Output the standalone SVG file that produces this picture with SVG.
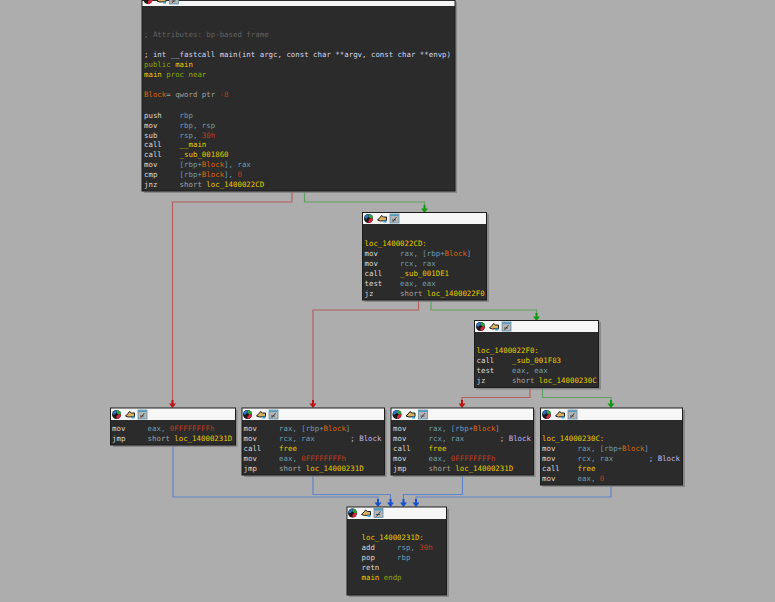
<svg xmlns="http://www.w3.org/2000/svg" width="775" height="602" viewBox="0 0 775 602">
<style>
text{font-family:"DejaVu Sans Mono","Liberation Mono",monospace;font-size:7.4px;white-space:pre;fill:#d8d8d8}
.box{fill:#2b2b2b;stroke:#1c1c1c;stroke-width:1}
.shadow{fill:#7c7c7c;opacity:.75}
.title{fill:#f6f6f6}
.r{fill:#6b9dab}.y{fill:#e6c800}.o{fill:#dc6410}.n{fill:#bc3c22}.b{fill:#6a99ba}.g{fill:#a0a0a0}.c{fill:#626262}
.l{fill:#d4d4ee}.p{fill:#86a800}.k{fill:#c0b6ea}
.edge{fill:none;stroke-width:1.2}
.red{stroke:#b85f5f}.green{stroke:#60a060}.blue{stroke:#6284cc}
</style>
<defs>
<g id="icons">
<circle cx="6" cy="6.500" r="4.500" fill="#1b1b1b"/>
<path d="M6 2A4.500 4.500 0 0 1 10.500 6.500H6Z" fill="#2f9e3f"/>
<path d="M10.500 6.500A4.500 4.500 0 0 1 6 11V6.500Z" fill="#d6243c"/>
<path d="M2 6.500A4.500 4.500 0 0 1 6 2V6.500Z" fill="#2a6fc0"/>
<circle cx="6" cy="6.500" r="1.300" fill="#111"/>
<path d="M15 8l3-3 1-1.500 2 1.500 3 0 0 3.500-6 0.500Z" fill="#d9b260" stroke="#1e1e1e" stroke-width="1"/>
<rect x="21" y="8.500" width="3" height="2" fill="#3aa0d8"/>
<rect x="27.500" y="2" width="9" height="9" fill="#b5b5b5" stroke="#5a8fa8" stroke-width=".8"/>
<rect x="28" y="2.500" width="8" height="1.500" fill="#4f9cc4"/>
<path d="M30 10l4-5M29.500 8h4" stroke="#333" stroke-width=".8" fill="none"/>
</g>
<marker id="ar" markerWidth="8" markerHeight="8" refX="3.500" refY="7" markerUnits="userSpaceOnUse" viewBox="0 0 7 8"><path d="M0 3.500H7L3.500 8Z M2.500 0H4.500V4H2.500Z" fill="#b81414"/></marker>
<marker id="ag" markerWidth="8" markerHeight="8" refX="3.500" refY="7" markerUnits="userSpaceOnUse" viewBox="0 0 7 8"><path d="M0 3.500H7L3.500 8Z M2.500 0H4.500V4H2.500Z" fill="#109a10"/></marker>
<marker id="ab" markerWidth="8" markerHeight="8" refX="3.500" refY="7" markerUnits="userSpaceOnUse" viewBox="0 0 7 8"><path d="M0 3.500H7L3.500 8Z M2.500 0H4.500V4H2.500Z" fill="#1450d2"/></marker>
</defs>
<rect width="775" height="602" fill="#adadad"/>
<g id="connectors">
<path class="edge red" marker-end="url(#ar)" d="M292 191V202H172.500V407"/>
<path class="edge green" marker-end="url(#ag)" d="M304.500 191V202H424.500V212"/>
<path class="edge red" marker-end="url(#ar)" d="M418.500 300V310H313V407"/>
<path class="edge green" marker-end="url(#ag)" d="M431 300V310H536.500V320"/>
<path class="edge red" marker-end="url(#ar)" d="M530 387V397.500H462V407"/>
<path class="edge green" marker-end="url(#ag)" d="M542.500 387V397.500H611V407"/>
<path class="edge blue" marker-end="url(#ab)" d="M173 445V497H378V506"/>
<path class="edge blue" marker-end="url(#ab)" d="M313 475V494.500H390.500V506"/>
<path class="edge blue" marker-end="url(#ab)" d="M462.500 475V494.500H403.500V506"/>
<path class="edge blue" marker-end="url(#ab)" d="M611 485V497H416V506"/>
</g>
<g id="node-main">
<rect class="shadow" x="144" y="2" width="313" height="191"/>
<rect class="box" x="142" y="-8" width="313" height="199"/>
<rect class="title" x="142.500" y="1" width="312" height="5"/>
<use href="#icons" x="142" y="-7"/>
<text x="144" y="37" class="c">; Attributes: bp-based frame</text>
<text x="144" y="57" class="l">; int __fastcall main(int argc, const char **argv, const char **envp)</text>
<text x="144" y="67"><tspan class="p">public </tspan><tspan class="y">main</tspan></text>
<text x="144" y="77"><tspan class="y">main </tspan><tspan class="p">proc near</tspan></text>
<text x="144" y="97"><tspan class="o">Block</tspan><tspan class="g">= qword ptr </tspan><tspan class="n">-8</tspan></text>
<text x="144" y="118">push    <tspan class="r">rbp</tspan></text>
<text x="144" y="127.500">mov     <tspan class="r">rbp, rsp</tspan></text>
<text x="144" y="137.500">sub     <tspan class="r">rsp, </tspan><tspan class="n">30h</tspan></text>
<text x="144" y="147">call    <tspan class="y">__main</tspan></text>
<text x="144" y="157">call    <tspan class="y">_sub_001860</tspan></text>
<text x="144" y="167">mov     <tspan class="b">[rbp+</tspan><tspan class="o">Block</tspan><tspan class="b">], </tspan><tspan class="r">rax</tspan></text>
<text x="144" y="177">cmp     <tspan class="b">[rbp+</tspan><tspan class="o">Block</tspan><tspan class="b">], </tspan><tspan class="n">0</tspan></text>
<text x="144" y="187">jnz     <tspan class="g">short </tspan><tspan class="y">loc_1400022CD</tspan></text>
</g>
<g id="node-22cd">
<rect class="shadow" x="364.500" y="214" width="124.500" height="88"/>
<rect class="box" x="362.500" y="212.500" width="124" height="87.500"/>
<rect class="title" x="363" y="213" width="123" height="11"/>
<use href="#icons" x="362.500" y="212"/>
<text x="364.500" y="245.500" class="y">loc_1400022CD:</text>
<text x="364.500" y="255.500">mov     <tspan class="r">rax, </tspan><tspan class="b">[rbp+</tspan><tspan class="o">Block</tspan><tspan class="b">]</tspan></text>
<text x="364.500" y="265.500">mov     <tspan class="r">rcx, rax</tspan></text>
<text x="364.500" y="275.500">call    <tspan class="y">_sub_001DE1</tspan></text>
<text x="364.500" y="285.500">test    <tspan class="r">eax, eax</tspan></text>
<text x="364.500" y="295.500">jz      <tspan class="g">short </tspan><tspan class="y">loc_1400022F0</tspan></text>
</g>
<g id="node-22f0">
<rect class="shadow" x="476.500" y="322" width="124.500" height="67.500"/>
<rect class="box" x="474.500" y="320.500" width="124" height="67"/>
<rect class="title" x="475" y="321" width="123" height="11"/>
<use href="#icons" x="474.500" y="320"/>
<text x="476.500" y="353" class="y">loc_1400022F0:</text>
<text x="476.500" y="363">call    <tspan class="y">_sub_001F83</tspan></text>
<text x="476.500" y="373">test    <tspan class="r">eax, eax</tspan></text>
<text x="476.500" y="383">jz      <tspan class="g">short </tspan><tspan class="y">loc_14000230C</tspan></text>
</g>
<g id="node-a">
<rect class="shadow" x="113" y="410" width="124.500" height="37"/>
<rect class="box" x="110.500" y="408" width="125" height="37"/>
<rect class="title" x="111" y="408.500" width="124" height="11.500"/>
<use href="#icons" x="110.500" y="408"/>
<text x="112" y="431">mov     <tspan class="r">eax, </tspan><tspan class="n">0FFFFFFFFh</tspan></text>
<text x="112" y="441">jmp     <tspan class="g">short </tspan><tspan class="y">loc_14000231D</tspan></text>
</g>
<g id="node-b">
<rect class="shadow" x="244" y="410" width="142.500" height="67"/>
<rect class="box" x="242" y="408" width="142.500" height="67"/>
<rect class="title" x="242.500" y="408.500" width="141.500" height="11.500"/>
<use href="#icons" x="241.500" y="408"/>
<text x="243.500" y="431">mov     <tspan class="r">rax, </tspan><tspan class="b">[rbp+</tspan><tspan class="o">Block</tspan><tspan class="b">]</tspan></text>
<text x="243.500" y="441">mov     <tspan class="r">rcx, rax</tspan><tspan class="k">        ; Block</tspan></text>
<text x="243.500" y="451">call    <tspan class="y">free</tspan></text>
<text x="243.500" y="461">mov     <tspan class="r">eax, </tspan><tspan class="n">0FFFFFFFFh</tspan></text>
<text x="243.500" y="471">jmp     <tspan class="g">short </tspan><tspan class="y">loc_14000231D</tspan></text>
</g>
<g id="node-c">
<rect class="shadow" x="393" y="410" width="142.500" height="67"/>
<rect class="box" x="391" y="408" width="142.500" height="67"/>
<rect class="title" x="391.500" y="408.500" width="141.500" height="11.500"/>
<use href="#icons" x="391" y="408"/>
<text x="393" y="431">mov     <tspan class="r">rax, </tspan><tspan class="b">[rbp+</tspan><tspan class="o">Block</tspan><tspan class="b">]</tspan></text>
<text x="393" y="441">mov     <tspan class="r">rcx, rax</tspan><tspan class="k">        ; Block</tspan></text>
<text x="393" y="451">call    <tspan class="y">free</tspan></text>
<text x="393" y="461">mov     <tspan class="r">eax, </tspan><tspan class="n">0FFFFFFFFh</tspan></text>
<text x="393" y="471">jmp     <tspan class="g">short </tspan><tspan class="y">loc_14000231D</tspan></text>
</g>
<g id="node-230c">
<rect class="shadow" x="542.500" y="410" width="142.500" height="77"/>
<rect class="box" x="540.500" y="408" width="142" height="77"/>
<rect class="title" x="541" y="408.500" width="141" height="11.500"/>
<use href="#icons" x="540.500" y="408"/>
<text x="542" y="441" class="y">loc_14000230C:</text>
<text x="542" y="451">mov     <tspan class="r">rax, </tspan><tspan class="b">[rbp+</tspan><tspan class="o">Block</tspan><tspan class="b">]</tspan></text>
<text x="542" y="461">mov     <tspan class="r">rcx, rax</tspan><tspan class="k">        ; Block</tspan></text>
<text x="542" y="471">call    <tspan class="y">free</tspan></text>
<text x="542" y="481">mov     <tspan class="r">eax, </tspan><tspan class="n">0</tspan></text>
</g>
<g id="node-231d">
<rect class="shadow" x="349" y="509" width="100" height="88"/>
<rect class="box" x="347" y="507" width="99.500" height="88"/>
<rect class="title" x="347.500" y="507.500" width="98.500" height="11.500"/>
<use href="#icons" x="346.500" y="506.500"/>
<text x="361.500" y="540" class="y">loc_14000231D:</text>
<text x="361.500" y="550">add     <tspan class="r">rsp, </tspan><tspan class="n">30h</tspan></text>
<text x="361.500" y="560">pop     <tspan class="r">rbp</tspan></text>
<text x="361.500" y="570">retn</text>
<text x="361.500" y="580"><tspan class="y">main </tspan><tspan class="p">endp</tspan></text>
</g>
</svg>
